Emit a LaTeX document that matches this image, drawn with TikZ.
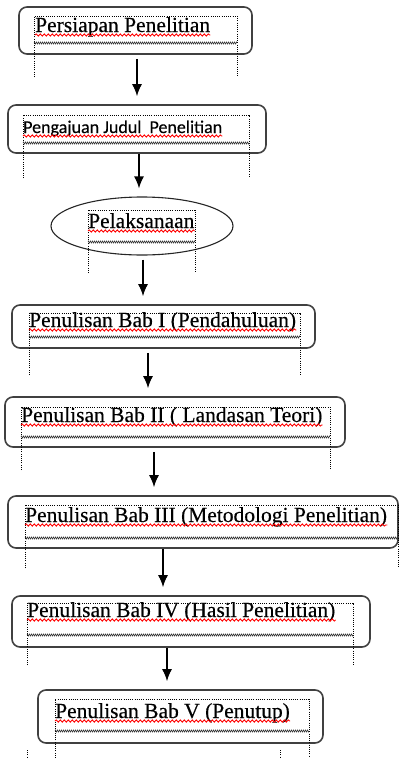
\documentclass[tikz,border=0pt]{standalone}
\usepackage{fontspec}
\setmainfont{Liberation Serif}[FakeBold=0.35]
\newfontfamily\calibri{Carlito}[FakeBold=0.3]
\usetikzlibrary{shapes,arrows.meta,decorations.pathmorphing}
\tikzstyle{block} = [rectangle, draw=black!75, line width=1.6pt,
    rounded corners=8pt, inner sep=0pt]
\tikzstyle{oval} = [ellipse, draw=black!85, line width=1.1pt, inner sep=0pt]
\tikzstyle{txt} = [anchor=base west, inner sep=0pt,
    font=\fontsize{21.5}{24}\selectfont]
\tikzstyle{line} = [draw, line width=1.6pt, -{Latex[length=12pt,width=10pt]},
    shorten >=8pt]
\tikzstyle{frame} = [draw, line width=0.9pt, dash pattern=on 1pt off 1.2pt]
\tikzstyle{zig} = [draw, black!80, line width=0.5pt, decorate,
    decoration={zigzag, amplitude=1pt, segment length=2pt}]
\tikzstyle{squig} = [draw=red, line width=0.9pt, decorate,
    decoration={snake, amplitude=1.1pt, segment length=4pt}]
% dotted text frame: left, right, top, zigzag, bottom
\newcommand{\txtframe}[5]{%
    \draw[frame] (#1,#5) -- (#1,#3) -- (#2,#3) -- (#2,#5);
    \draw[zig] (#1,#4) -- (#2,#4);}

\begin{document}
\begin{tikzpicture}[x=1pt, y=-1pt]
    \useasboundingbox (0,0) rectangle (400,758);
    % Place nodes
    \node [block, minimum width=233, minimum height=47] (prep) at (135.5,30.5) {};
    \node [block, minimum width=258, minimum height=48] (ajuan) at (137,129) {};
    \node [oval, minimum width=182, minimum height=58] (laksana) at (142,226) {};
    \node [block, minimum width=303, minimum height=43] (bab1) at (163.5,326.5) {};
    \node [block, minimum width=340, minimum height=50] (bab2) at (175,422) {};
    \node [block, minimum width=390, minimum height=52] (bab3) at (203,522) {};
    \node [block, minimum width=358, minimum height=51] (bab4) at (191,621.5) {};
    \node [block, minimum width=285, minimum height=53] (bab5) at (180.5,716.5) {};
    % Word text frames
    \txtframe{34}{237}{16}{43}{77}
    \txtframe{23}{249}{115}{143}{178}
    \txtframe{88}{195}{210}{242}{273}
    \txtframe{29}{300}{313}{337}{375}
    \txtframe{21}{330}{407}{437}{470}
    \txtframe{25}{398}{505}{538}{568}
    \txtframe{27}{353}{603}{635}{665}
    \txtframe{55}{309}{699}{731}{758}
    \draw[frame] (27,750) -- (27,758);
    \draw[frame] (280,750) -- (280,758);
    % Labels
    \node [txt] (tprep) at (35,32) {Persiapan Penelitian};
    \node [txt, font=\calibri\fontsize{18}{21}\selectfont] (tajuan) at (23,133)
        {Pengajuan Judul\hspace{0.45em}Penelitian};
    \node [txt] (tlaksana) at (88,228) {Pelaksanaan};
    \node [txt] (tbab1) at (29,327) {Penulisan Bab I (Pendahuluan)};
    \node [txt] (tbab2) at (21,422) {Penulisan Bab II ( Landasan Teori)};
    \node [txt] (tbab3) at (25,522) {Penulisan Bab III (Metodologi Penelitian)};
    \node [txt] (tbab4) at (27,617) {Penulisan Bab IV (Hasil Penelitian)};
    \node [txt] (tbab5) at (55,718) {Penulisan Bab V (Penutup)};
    \foreach \t in {tprep,tajuan,tlaksana,tbab1,tbab2,tbab3,tbab4,tbab5}
        \path[squig] ([yshift=-3pt]\t.base west) -- ([yshift=-3pt]\t.base east);
    % Draw edges
    \path [line, shorten <=4pt] ([xshift=1.5pt]prep.south) -- ([xshift=1.5pt]prep.south |- ajuan.north);
    \path [line] ([xshift=2pt]ajuan.south) -- ([xshift=2pt]ajuan.south |- laksana.north);
    \path [line, shorten <=4pt] ([xshift=1pt]laksana.south) -- ([xshift=1pt]laksana.south |- bab1.north);
    \path [line, shorten <=4pt] ([xshift=-15.5pt]bab1.south) -- ([xshift=-15.5pt]bab1.south |- bab2.north);
    \path [line, shorten <=4pt] ([xshift=-21pt]bab2.south) -- ([xshift=-21pt]bab2.south |- bab3.north);
    \path [line] ([xshift=-40pt]bab3.south) -- ([xshift=-40pt]bab3.south |- bab4.north);
    \path [line] ([xshift=-24pt]bab4.south) -- ([xshift=-24pt]bab4.south |- bab5.north);
\end{tikzpicture}
\end{document}
